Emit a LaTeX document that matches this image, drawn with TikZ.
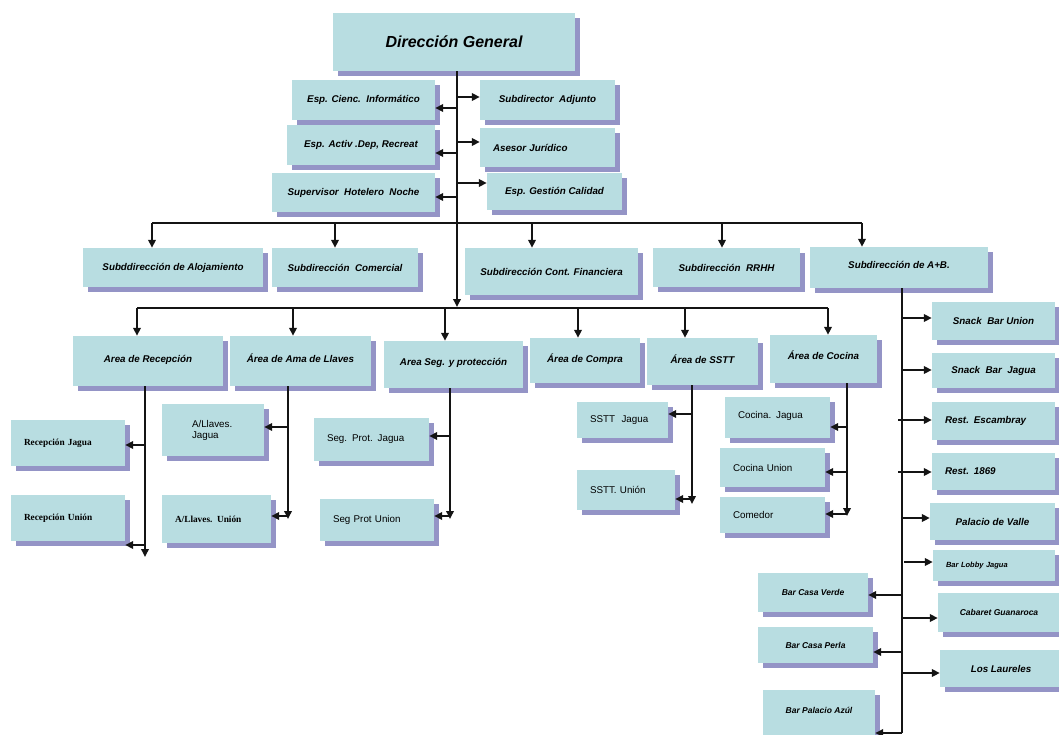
\documentclass[tikz,border=0pt]{standalone}
\usepackage{fontspec}
\setmainfont{Liberation Sans}
\newfontfamily\tnrfont{Liberation Serif}
\usetikzlibrary{shadows,arrows.meta}
\definecolor{boxc}{HTML}{B8DDE1}
\definecolor{shadc}{HTML}{9494C6}
\definecolor{linec}{HTML}{141414}
\tikzset{
 box/.style={fill=boxc, inner sep=0pt, text=black,
   font=\fontsize{9.8}{11}\selectfont\bfseries\itshape,
   drop shadow={shadow xshift=5pt, shadow yshift=-5pt, fill=shadc, opacity=1}},
 big/.style={font=\fontsize{16}{19}\selectfont\bfseries\itshape},
 sm/.style={font=\fontsize{8.5}{10}\selectfont\bfseries\itshape},
 xs/.style={font=\fontsize{7.5}{9}\selectfont\bfseries\itshape},
 tms/.style={font=\fontsize{9.3}{10.5}\selectfont\tnrfont\bfseries},
 pln/.style={font=\fontsize{9.8}{11}\selectfont},
 ln/.style={draw=linec, line width=1.8pt},
 arr/.style={ln, -{Triangle[length=8pt,width=7.5pt]}},
}
\newcommand\bx[7][]{%
 \pgfmathsetmacro\bxw{#5-#3}\pgfmathsetmacro\bxh{#6-#4}%
 \pgfmathsetmacro\bxcx{(#3+#5)/2}\pgfmathsetmacro\bxcy{(#4+#6)/2}%
 \node[box,minimum width=\bxw pt,minimum height=\bxh pt,#1] (#2) at (\bxcx,\bxcy) {#7};}
\newcommand\lbx[7][]{%
 \pgfmathsetmacro\bxw{#5-#3}\pgfmathsetmacro\bxh{#6-#4}\pgfmathsetmacro\bxtw{#5-#3-26}%
 \pgfmathsetmacro\bxcx{(#3+#5)/2}\pgfmathsetmacro\bxcy{(#4+#6)/2}%
 \node[box,align=left,text width=\bxtw pt,minimum width=\bxw pt,minimum height=\bxh pt,#1] (#2) at (\bxcx,\bxcy) {#7};}
\begin{document}
\begin{tikzpicture}[x=1pt,y=-1pt]
\useasboundingbox (0,0) rectangle (1059,735);
\clip (0,0) rectangle (1059,735);
% top
\bx[big]{dg}{333}{13}{575}{71}{Dirección General}
\bx{eci}{292}{80}{435}{120}{Esp. Cienc.\ \ Informático}
\bx{ead}{287}{125}{435}{165}{Esp. Activ .Dep, Recreat}
\bx{shn}{272}{173}{435}{212}{Supervisor\ \ Hotelero\ \ Noche}
\bx{sad}{480}{80}{615}{120}{Subdirector\ \ Adjunto}
\lbx{aju}{480}{128}{615}{167}{Asesor Jurídico}
\bx{egc}{487}{173}{622}{210}{Esp. Gestión Calidad}
% subdirecciones
\bx{aloj}{83}{248}{263}{287}{Subddirección de Alojamiento}
\bx{com}{272}{248}{418}{287}{Subdirección\ \ Comercial}
\bx{cf}{465}{248}{638}{295}{Subdirección Cont. Financiera}
\bx{rrhh}{653}{248}{800}{287}{Subdirección\ \ RRHH}
\bx[text depth=6pt]{ab}{810}{247}{988}{288}{Subdirección de A+B.}
% areas
\bx[text depth=5pt]{arec}{73}{336}{223}{386}{Area de Recepción}
\bx[text depth=5pt]{aama}{230}{336}{371}{386}{Área de Ama de Llaves}
\bx[text depth=5pt]{aseg}{384}{341}{523}{388}{Area Seg. y protección}
\bx[text depth=4pt]{acom}{530}{338}{640}{383}{Área de Compra}
\bx[text depth=4pt]{asst}{647}{338}{758}{385}{Área de SSTT}
\bx[text depth=8pt]{acoc}{770}{335}{877}{383}{Área de Cocina}
% sub boxes
\lbx[tms]{rj}{11}{420}{125}{466}{Recepción Jagua}
\lbx[tms]{ru}{11}{495}{125}{541}{Recepción Unión}
\bx[pln,text width=42pt,align=left]{lj}{162}{404}{264}{456}{A/Llaves.\\Jagua}
\lbx[tms]{lu}{162}{495}{271}{543}{A/Llaves. Unión}
\lbx[pln]{sj}{314}{418}{429}{461}{Seg. Prot. Jagua}
\lbx[pln]{su}{320}{499}{434}{541}{Seg Prot Union}
\lbx[pln]{stj}{577}{402}{668}{438}{SSTT\ \ Jagua}
\lbx[pln]{stu}{577}{470}{675}{510}{SSTT. Unión}
\lbx[pln,text depth=5pt]{cj}{725}{397}{830}{438}{Cocina. Jagua}
\lbx[pln]{cu}{720}{448}{825}{487}{Cocina Union}
\lbx[pln]{cme}{720}{497}{825}{533}{Comedor}
% A+B column
\bx{sbu}{932}{302}{1055}{340}{Snack\ \ Bar Union}
\bx{sbj}{932}{353}{1055}{388}{Snack\ \ Bar\ \ Jagua}
\lbx{res}{932}{402}{1055}{440}{Rest. Escambray}
\lbx{r69}{932}{453}{1055}{490}{Rest. 1869}
\bx{pv}{930}{503}{1055}{540}{Palacio de Valle}
\lbx[xs]{blj}{933}{550}{1055}{581}{Bar Lobby Jagua}
\bx[sm]{cg}{938}{593}{1060}{632}{Cabaret Guanaroca}
\bx{ll}{940}{650}{1062}{687}{Los Laureles}
\bx[sm]{bcv}{758}{573}{868}{612}{Bar Casa Verde}
\bx[sm]{bcp}{758}{627}{873}{663}{Bar Casa Perla}
\bx[sm,text depth=30pt]{bpa}{763}{690}{875}{760}{Bar Palacio Azúl}
% ---------- connectors ----------
\coordinate (t1) at (457,223);
\coordinate (t2) at (457,308);
\draw[ln] (dg.south -| t1) -- (t1);
\draw[arr] (t1) -- ([yshift=1pt]t2);
% top cluster
\coordinate (r1) at (457,97);  \coordinate (l1) at (457,108);
\coordinate (r2) at (457,142); \coordinate (l2) at (457,153);
\coordinate (r3) at (457,183); \coordinate (l3) at (457,197);
\draw[arr] (r1) -- (r1 -| sad.west);
\draw[arr] (r2) -- (r2 -| aju.west);
\draw[arr] (r3) -- (r3 -| egc.west);
\draw[arr] (l1) -- (l1 -| eci.east);
\draw[arr] (l2) -- (l2 -| ead.east);
\draw[arr] (l3) -- (l3 -| shn.east);
% upper bus
\coordinate (u1) at (152,223); \coordinate (u2) at (335,223);
\coordinate (u3) at (532,223); \coordinate (u4) at (722,223);
\coordinate (u5) at (862,223);
\draw[ln] (u1) -- (u5);
\draw[arr] (u1) -- (u1 |- aloj.north);
\draw[arr] (u2) -- (u2 |- com.north);
\draw[arr] (u3) -- (u3 |- cf.north);
\draw[arr] (u4) -- (u4 |- rrhh.north);
\draw[arr] (u5) -- (u5 |- ab.north);
% lower bus
\coordinate (d1) at (137,308); \coordinate (d2) at (293,308);
\coordinate (d3) at (445,308); \coordinate (d4) at (578,308);
\coordinate (d5) at (685,308); \coordinate (d6) at (828,308);
\draw[ln] (d1) -- (d6);
\draw[arr] (d1) -- (d1 |- arec.north);
\draw[arr] (d2) -- (d2 |- aama.north);
\draw[arr] (d3) -- (d3 |- aseg.north);
\draw[arr] (d4) -- (d4 |- acom.north);
\draw[arr] (d5) -- (d5 |- asst.north);
\draw[arr] (d6) -- (d6 |- acoc.north);
% Recepcion
\coordinate (rc) at (145,386); \coordinate (rce) at (145,557);
\coordinate (rc1) at (145,445); \coordinate (rc2) at (145,545);
\draw[arr] (rc) -- (rce);
\draw[arr] (rc1) -- (rc1 -| rj.east);
\draw[arr] (rc2) -- (rc2 -| ru.east);
% Ama de llaves
\coordinate (am) at (288,386); \coordinate (ame) at (288,519);
\coordinate (am1) at (288,427); \coordinate (am2) at (288,516);
\draw[arr] (am) -- (ame);
\draw[arr] (am1) -- (am1 -| lj.east);
\draw[arr] (am2) -- (am2 -| lu.east);
% Seguridad
\coordinate (sg) at (450,388); \coordinate (sge) at (450,519);
\coordinate (sg1) at (450,436); \coordinate (sg2) at (450,516);
\draw[arr] (sg) -- (sge);
\draw[arr] (sg1) -- (sg1 -| sj.east);
\draw[arr] (sg2) -- (sg2 -| su.east);
% SSTT
\coordinate (st) at (692,385); \coordinate (ste) at (692,504);
\coordinate (st1) at (692,414); \coordinate (st2) at (692,499);
\draw[arr] (st) -- (ste);
\draw[arr] (st1) -- (st1 -| stj.east);
\draw[arr] (st2) -- (st2 -| stu.east);
% Cocina
\coordinate (co) at (847,383); \coordinate (coe) at (847,516);
\coordinate (co1) at (847,427); \coordinate (co2) at (847,472);
\coordinate (co3) at (847,514);
\draw[arr] (co) -- (coe);
\draw[arr] (co1) -- (co1 -| cj.east);
\draw[arr] (co2) -- (co2 -| cu.east);
\draw[arr] (co3) -- (co3 -| cme.east);
% A+B column
\coordinate (ax) at (902,288); \coordinate (axe) at (902,733);
\draw[ln] (ax) -- (axe);
\coordinate (a1) at (902,318); \coordinate (a2) at (902,370);
\coordinate (a3) at (898,420); \coordinate (a4) at (898,472);
\coordinate (a5) at (902,518); \coordinate (a6) at (904,562);
\coordinate (a7) at (902,618); \coordinate (a8) at (902,673);
\draw[arr] (a1) -- (a1 -| sbu.west);
\draw[arr] (a2) -- (a2 -| sbj.west);
\draw[arr] (a3) -- (a3 -| res.west);
\draw[arr] (a4) -- (a4 -| r69.west);
\draw[arr] (a5) -- (a5 -| pv.west);
\draw[arr] (a6) -- (a6 -| blj.west);
\draw[arr] (a7) -- (a7 -| cg.west);
\draw[arr] (a8) -- (a8 -| ll.west);
\coordinate (b1) at (902,595); \coordinate (b2) at (902,652);
\draw[arr] (b1) -- (b1 -| bcv.east);
\draw[arr] (b2) -- (b2 -| bcp.east);
\draw[arr] (axe) -- (axe -| bpa.east);
\end{tikzpicture}
\end{document}
